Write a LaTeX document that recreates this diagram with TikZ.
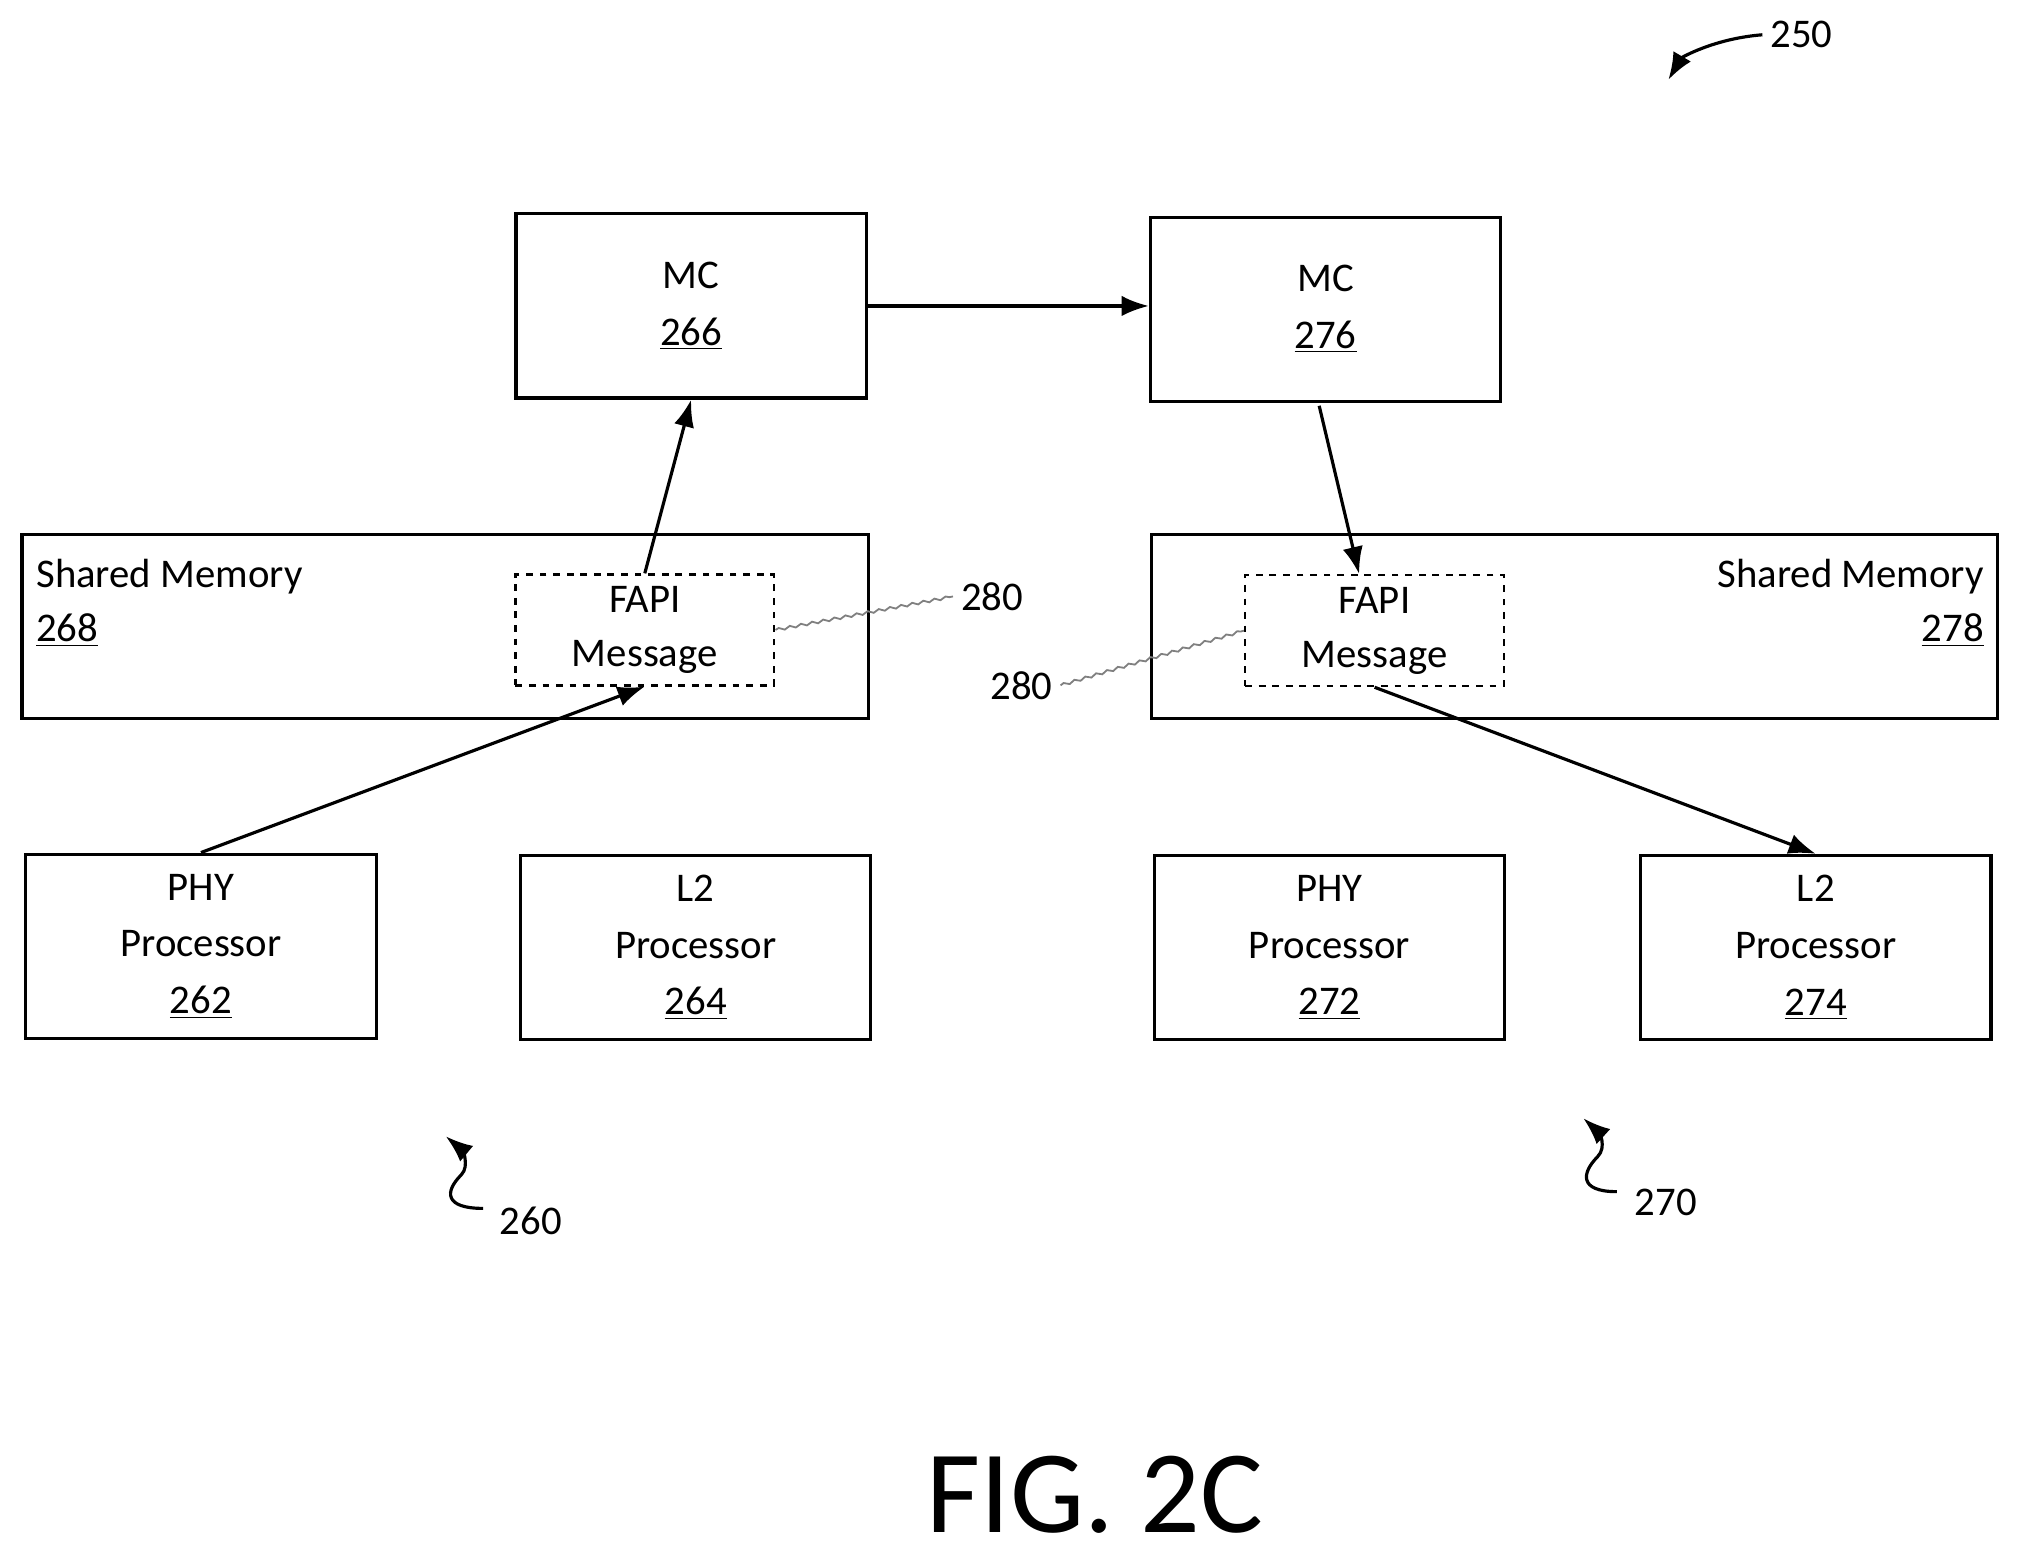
\documentclass[tikz,border=0pt]{standalone}
\usepackage{fontspec}
\setmainfont{Carlito}
\usetikzlibrary{arrows.meta,decorations.pathmorphing}
\tikzset{
  blk/.style={draw,line width=1.4pt,minimum width=5.44cm,minimum height=2.86cm,align=center,font=\fontsize{18}{25}\selectfont},
  mem/.style={draw,line width=1.4pt,minimum width=13.14cm,minimum height=2.86cm},
  msg/.style={draw,dashed,line width=1.1pt,minimum width=4.02cm,minimum height=1.72cm,align=center,font=\fontsize{18}{24}\selectfont},
  flow/.style={-{Latex[length=12pt,width=9pt]},line width=1.4pt},
  lead/.style={gray,line width=0.8pt,decorate,decoration={snake,amplitude=0.6pt,segment length=5pt}},
  ref/.style={font=\fontsize{18}{20}\selectfont},
}
\begin{document}
\begin{tikzpicture}[x=0.02cm,y=-0.02cm]
	\useasboundingbox (0,0) rectangle (1568,1210);
	% controllers
	\node[blk] (mcA) at (536.5,237.5) {MC\\\underline{266}};
	\node[blk] (mcB) at (1029,240) {MC\\\underline{276}};
	% shared memories
	\node[mem] (smA) at (345.5,486.5) {};
	\node[ref,anchor=north west,align=left,font=\fontsize{18}{24}\selectfont] at (22,428) {Shared Memory\\\underline{268}};
	\node[mem] (smB) at (1222,486.5) {};
	\node[ref,anchor=north east,align=right,font=\fontsize{18}{24}\selectfont] at (1546,428) {Shared Memory\\\underline{278}};
	\node[msg] (fapiA) at (500.5,489) {FAPI\\Message};
	\node[msg] (fapiB) at (1067,489.5) {FAPI\\Message};
	% processors
	\node[blk] (phyA) at (156,734.5) {PHY\\Processor\\\underline{262}};
	\node[blk] (ltwoA) at (540,735.5) {L2\\Processor\\\underline{264}};
	\node[blk] (phyB) at (1032,735.5) {PHY\\Processor\\\underline{272}};
	\node[blk] (ltwoB) at (1409.5,735.5) {L2\\Processor\\\underline{274}};
	% flow
	\draw[flow] (mcA.east) -- (mcA.east -| mcB.west);
	\draw[flow] (fapiA.north) -- (mcA.south);
	\draw[flow] (1024,315) -- (fapiB.north -| 1055,0);
	\draw[flow] (phyA.north) -- (fapiA.south);
	\draw[flow] (fapiB.south) -- (ltwoB.north);
	% reference numerals
	\node[ref] (rA) at (770,463) {280};
	\node[ref] (rB) at (793,532) {280};
	\draw[lead] (fapiA.east) -- (rA.west);
	\draw[lead] (rB.east) -- (fapiB.west);
	\node[ref,anchor=west] (rSys) at (1368,27) {250};
	\draw[flow] (rSys.west) .. controls (1330,30) and (1305,45) .. (1295,62);
	\node[ref] (rLeft) at (412,948) {260};
	\draw[flow] (375,938) .. controls (345,938) and (345,925) .. (358,912) .. controls (365,905) and (358,892) .. (346,882);
	\node[ref] (rRight) at (1293,933) {270};
	\draw[flow] (1255,925) .. controls (1225,925) and (1228,910) .. (1240,898) .. controls (1248,890) and (1240,878) .. (1229,868);
	\node[font=\fontsize{52}{54}\selectfont] (fig) at (850,1160) {FIG. 2C};
\end{tikzpicture}
\end{document}
